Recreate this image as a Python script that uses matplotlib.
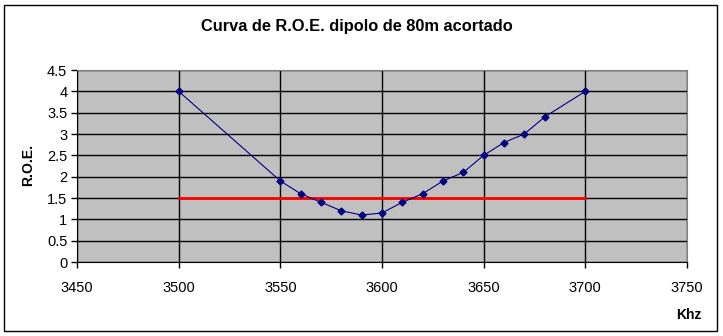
import matplotlib
matplotlib.use("Agg")
import matplotlib.pyplot as plt
from matplotlib.patches import Rectangle

plt.rcParams['font.family'] = ['Liberation Sans', 'DejaVu Sans']

# frequency (kHz) and measured SWR
freq = [3500, 3550, 3560, 3570, 3580, 3590, 3600, 3610, 3620, 3630,
        3640, 3650, 3660, 3670, 3680, 3700]
roe = [4.0, 1.9, 1.6, 1.4, 1.2, 1.1, 1.15, 1.4, 1.6, 1.9,
       2.1, 2.5, 2.8, 3.0, 3.4, 4.0]

# reference level line
ref_x = [3500, 3700]
ref_y = [1.5, 1.5]

xticks = [3450, 3500, 3550, 3600, 3650, 3700, 3750]
yticks = [0, 0.5, 1, 1.5, 2, 2.5, 3, 3.5, 4, 4.5]

fig = plt.figure(figsize=(7.23, 3.36), dpi=100)
fig.patch.set_facecolor('white')

# outer chart border
fig.patches.append(Rectangle((4 / 723, 1 - 331 / 336), 713 / 723, 326 / 336,
                             transform=fig.transFigure, fill=False,
                             edgecolor='black', linewidth=1))

ax = fig.add_axes([77 / 723, 1 - 262 / 336, 610 / 723, 192 / 336])
ax.set_facecolor('#C0C0C0')

ax.plot(freq, roe, color='#000080', linewidth=0.8, marker='D',
        markersize=3.5, zorder=3)
ax.plot(ref_x, ref_y, color='#FF0000', linewidth=2, zorder=2)

ax.set_xlim(3450, 3750)
ax.set_ylim(0, 4.5)
ax.set_xticks(xticks)
ax.set_yticks(yticks)
ax.set_yticklabels([f"{v:g}" for v in yticks])
ax.grid(True, color='black', linewidth=1)
ax.set_axisbelow(True)

for s in ['top', 'right']:
    ax.spines[s].set_color('#808080')
for s in ['left', 'bottom']:
    ax.spines[s].set_color('black')

ax.tick_params(axis='both', labelsize=10.5, length=4, width=1, color='black')
ax.tick_params(axis='x', pad=10)
ax.tick_params(axis='y', pad=3)

fig.text(357 / 723, 1 - 26 / 336, "Curva de R.O.E. dipolo de 80m acortado",
         ha='center', va='center', fontsize=11.8, fontweight='semibold')
fig.text(28 / 723, 1 - 165 / 336, "R.O.E.", rotation=90, ha='center',
         va='center', fontsize=10, fontweight='bold')
fig.text(689 / 723, 1 - 315 / 336, "Khz", ha='center', va='center',
         fontsize=10, fontweight='bold')

fig.savefig("out.png", dpi=100)
